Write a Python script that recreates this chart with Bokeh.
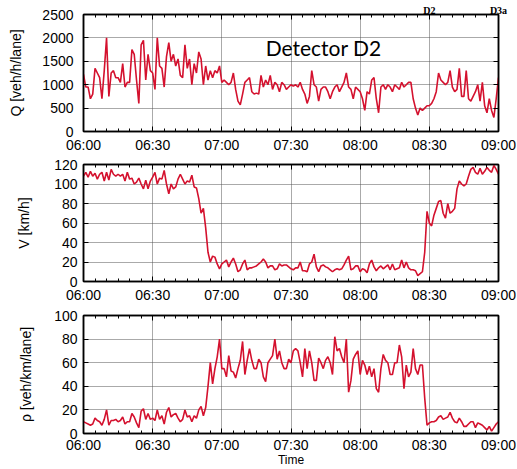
import pandas as pd
from bokeh.plotting import figure
from bokeh.layouts import column
from bokeh.models import (Range1d, DatetimeAxis, LinearAxis, FixedTicker,
                          DatetimeTickFormatter, CustomJSTickFormatter, Label)
from bokeh.embed import file_html
from bokeh.resources import INLINE

# One-minute detector samples, 06:00 to 09:00
flow = [
    1220, 950, 950, 700, 800, 1350, 1250, 1150, 700, 1300,
    2000, 750, 1250, 1300, 1150, 1150, 1050, 1450, 950, 1050,
    1050, 1750, 1650, 1100, 600, 1850, 1950, 1100, 1650, 1300,
    1250, 900, 2000, 1400, 1350, 950, 1600, 1900, 1500, 1650,
    1400, 1550, 1200, 1150, 1850, 1350, 1550, 1000, 1450, 1250,
    1700, 1550, 1000, 1400, 1100, 1300, 1150, 1300, 1250, 1400,
    1050, 1100, 1050, 1000, 1050, 1250, 900, 650, 570, 800,
    1050, 1100, 1150, 850, 800, 820, 800, 1200, 950, 1100,
    1000, 1200, 900, 1050, 1000, 850, 1050, 1000, 900, 950,
    1000, 970, 1000, 950, 1050, 900, 800, 600, 750, 1300,
    1000, 950, 650, 900, 950, 950, 850, 700, 850, 950,
    1000, 850, 950, 1050, 1250, 950, 900, 700, 950, 900,
    850, 700, 450, 850, 800, 1100, 1150, 700, 400, 950,
    1000, 900, 1000, 950, 850, 1000, 950, 900, 1050, 950,
    1000, 1050, 1050, 700, 500, 350, 500, 450, 500, 550,
    550, 600, 700, 850, 1250, 1100, 1050, 1000, 1050, 1300,
    950, 850, 900, 1350, 750, 750, 1300, 700, 650, 750,
    850, 1000, 650, 1050, 550, 400, 700, 450, 300, 700,
    1150,
]

speed = [
    108, 112, 107, 113, 108, 111, 105, 110, 112, 103,
    112, 104, 115, 110, 108, 110, 108, 110, 103, 112,
    105, 106, 100, 102, 106, 100, 95, 104, 95, 103,
    107, 112, 100, 106, 105, 114, 100, 90, 100, 95,
    97, 105, 110, 105, 100, 103, 102, 109, 97, 96,
    85, 70, 75, 55, 30, 20, 26, 25, 18, 13,
    18, 20, 22, 15, 20, 24, 18, 10, 12, 18,
    22, 12, 14, 14, 15, 16, 18, 20, 23, 20,
    14, 16, 16, 12, 13, 18, 16, 17, 17, 15,
    13, 12, 14, 14, 20, 11, 11, 10, 18, 20,
    28, 15, 10, 16, 17, 15, 14, 12, 10, 12,
    13, 12, 13, 17, 22, 26, 12, 13, 16, 16,
    10, 13, 12, 9, 18, 22, 15, 11, 14, 16,
    13, 15, 17, 12, 18, 12, 13, 14, 22, 14,
    20, 14, 12, 12, 11, 6, 8, 10, 30, 72,
    60, 57, 68, 75, 82, 83, 70, 65, 80, 70,
    72, 75, 95, 103, 100, 98, 100, 108, 115, 117,
    112, 110, 116, 110, 113, 117, 114, 112, 119, 115,
    110,
]

density = [
    10, 9, 8, 7, 8, 13, 11, 10, 7, 12,
    20, 7, 11, 11, 12, 10, 11, 14, 8, 10,
    10, 17, 14, 9, 5, 19, 21, 12, 17, 12,
    13, 11, 20, 12, 15, 8, 18, 22, 14, 16,
    17, 13, 10, 12, 20, 14, 15, 10, 15, 13,
    20, 23, 15, 22, 40, 60, 42, 55, 65, 80,
    55, 55, 48, 66, 53, 52, 47, 55, 62, 78,
    50, 62, 72, 62, 55, 55, 63, 60, 48, 44,
    60, 63, 66, 80, 63, 70, 60, 55, 55, 63,
    60, 70, 72, 70, 60, 48, 72, 55, 70, 60,
    45, 45, 64, 60, 55, 62, 65, 60, 50, 82,
    70, 72, 65, 60, 80, 35, 45, 63, 67, 70,
    50, 62, 58, 50, 57, 48, 55, 38, 35, 55,
    67, 62, 60, 50, 50, 60, 60, 75, 65, 38,
    58, 48, 52, 72, 55, 50, 58, 58, 30, 7,
    9, 10, 10, 11, 14, 15, 12, 13, 14, 18,
    13, 10, 9, 13, 10, 6, 6, 8, 10, 10,
    5, 9, 8, 7, 5, 3, 6, 2, 5, 8,
    10,
]

tick_labels = ["06:00", "06:30", "07:00", "07:30", "08:00", "08:30", "09:00"]
# detector names marked along the top edge, one per time tick
detector_marks = ["", "", "", "", "", "D2", "D3a"]

RED = "#d4112e"
FONT = "Liberation Sans"

day = "2009-06-16 "
times = pd.date_range(day + "06:00", periods=len(flow), freq="min")
t_start = pd.Timestamp(day + tick_labels[0])
t_end = pd.Timestamp(day + tick_labels[-1])


def ms(ts):
    return ts.value // 10**6


major_ticks = [ms(pd.Timestamp(day + t)) for t in tick_labels]
minor_ticks = [ms(t) for t in pd.date_range(t_start, t_end, freq="5min")]

time_fmt = DatetimeTickFormatter(
    seconds="%H:%M", minsec="%H:%M", minutes="%H:%M",
    hourmin="%H:%M", hours="%H:%M", days="%H:%M",
)


def blank_fmt():
    return CustomJSTickFormatter(code="return ''")


def style_axis(ax):
    ax.axis_line_color = "black"
    ax.axis_line_width = 1.5
    ax.major_tick_in = 5
    ax.major_tick_out = 0
    ax.minor_tick_in = 3
    ax.minor_tick_out = 0
    ax.major_tick_line_color = "black"
    ax.minor_tick_line_color = "black"
    ax.major_tick_line_width = 1
    ax.minor_tick_line_width = 1
    ax.major_label_text_font = FONT
    ax.major_label_text_font_size = "14px"
    ax.major_label_text_color = "black"
    ax.axis_label_text_color = "black"


def make_panel(values, ymax, ystep, ylabel, height, left, top, bottom,
               ylabel_standoff, ytick_standoff, top_formatter=None):
    p = figure(
        width=517, height=height, x_axis_type="datetime",
        x_range=Range1d(t_start, t_end), y_range=Range1d(0, ymax),
        output_backend="svg", toolbar_location=None,
        min_border_left=left, min_border_right=19,
        min_border_top=top, min_border_bottom=bottom,
        background_fill_color="white", border_fill_color="white",
    )
    p.outline_line_color = "black"
    p.outline_line_width = 1.5

    x_ticker = FixedTicker(ticks=major_ticks, minor_ticks=minor_ticks)
    y_ticker = FixedTicker(ticks=list(range(0, ymax + 1, ystep)), minor_ticks=[])

    xa = p.below[0]
    xa.ticker = x_ticker
    xa.formatter = time_fmt
    style_axis(xa)
    xa.major_label_standoff = 5

    ya = p.left[0]
    ya.ticker = y_ticker
    ya.axis_label = ylabel
    ya.axis_label_text_font = FONT
    ya.axis_label_text_font_size = "14px"
    ya.axis_label_text_font_style = "normal"
    ya.axis_label_standoff = ylabel_standoff
    style_axis(ya)
    ya.major_label_standoff = ytick_standoff

    # mirrored tick marks on the top and right edges
    top_axis = DatetimeAxis(ticker=x_ticker, formatter=top_formatter or blank_fmt())
    style_axis(top_axis)
    top_axis.major_label_standoff = 0
    if top_formatter is None:
        top_axis.major_label_text_font_size = "1px"
    p.add_layout(top_axis, "above")

    right_axis = LinearAxis(ticker=y_ticker, formatter=blank_fmt())
    style_axis(right_axis)
    right_axis.major_label_standoff = 0
    right_axis.major_label_text_font_size = "1px"
    p.add_layout(right_axis, "right")

    for g in (p.xgrid[0], p.ygrid[0]):
        g.grid_line_color = "#555555"
        g.grid_line_dash = "1 1"
        g.grid_line_width = 1
    p.xgrid[0].ticker = x_ticker
    p.ygrid[0].ticker = y_ticker

    p.line(times, values, line_color=RED, line_width=1.6)
    return p


detector_fmt = CustomJSTickFormatter(
    args=dict(ticks_ms=major_ticks, names=detector_marks),
    code="const i = ticks_ms.indexOf(tick); return i >= 0 ? names[i] : '';",
)

p_flow = make_panel(flow, 2500, 500, "Q [veh/h/lane]", 155, 83, 14, 23, 15, 10,
                    top_formatter=detector_fmt)
top_ax = p_flow.above[0]
top_ax.major_label_text_font = "Liberation Serif"
top_ax.major_label_text_font_style = "bold"
top_ax.major_label_text_font_size = "10px"
top_ax.major_label_standoff = -1

p_speed = make_panel(speed, 120, 20, "V [km/h]", 150, 74, 9, 22, 19, 6)
p_dens = make_panel(density, 100, 20, "ρ [veh/km/lane]", 164, 74, 10, 35, 17, 6)
time_axis = p_dens.below[0]
time_axis.major_label_standoff = 3
time_axis.axis_label = "Time"
time_axis.axis_label_text_font = FONT
time_axis.axis_label_text_font_size = "12px"
time_axis.axis_label_text_font_style = "normal"
time_axis.axis_label_standoff = -3

p_flow.add_layout(Label(
    x=pd.Timestamp(day + "07:19"), y=1800, text="Detector D2",
    text_font="Lato", text_font_size="21px", text_color="black",
    text_baseline="alphabetic", text_align="left",
))

layout = column(p_flow, p_speed, p_dens, spacing=0)
open("out.html", "w").write(file_html(layout, INLINE))
